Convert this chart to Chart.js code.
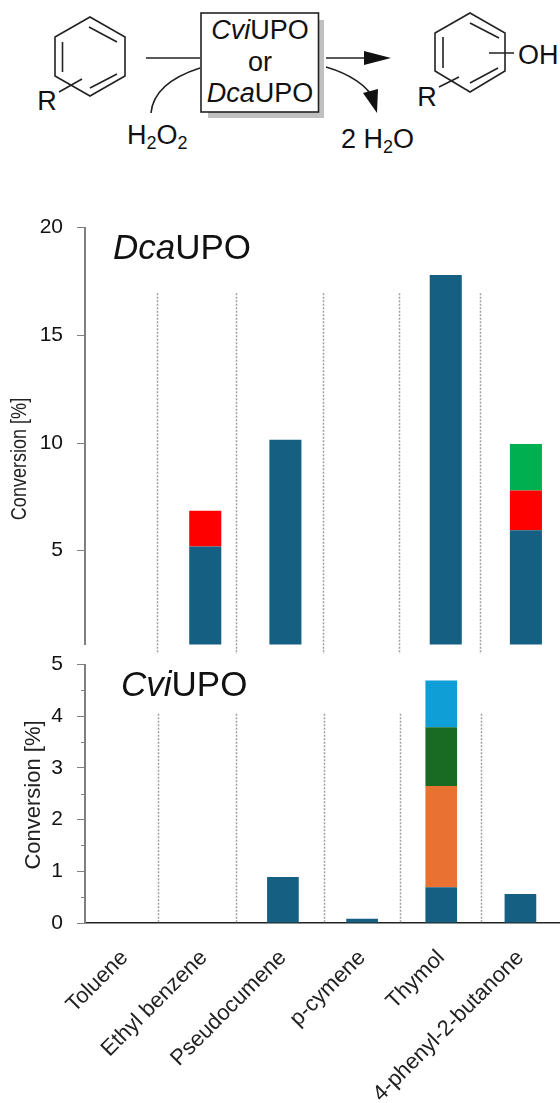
<!DOCTYPE html>
<html>
<head>
<meta charset="utf-8">
<script src="https://cdn.jsdelivr.net/npm/chart.js@4"></script>
<style>
    html, body { margin: 0; padding: 0; background: #fff; overflow: hidden; }
    body { width: 560px; height: 1103px; position: relative; font-family: "Liberation Sans", Arial, sans-serif; }
    svg, canvas { position: absolute; display: block; }
    svg text { font-family: "Liberation Sans", Arial, sans-serif; fill: #111; }
</style>
</head>
<body>
<!-- reaction scheme -->
<svg style="left:0;top:0" width="560" height="180" fill="none" stroke="#222" stroke-width="1.6">
    <polygon points="90,17 125,37 125,76 90,96 55,76 55,37"/>
    <path d="M89,27 L117,42 M62.5,42 L62.5,72 M90,88 L117,74 M82,79 L59,92"/>
    <text x="47" y="110" font-size="27" text-anchor="middle" stroke="none">R</text>
    <path d="M146,58 L200,58"/>
    <path d="M200,68 C172,77 153,92 151,113"/>
    <text x="127" y="144" font-size="27" stroke="none">H<tspan font-size="18" dy="5">2</tspan><tspan dy="-5">O</tspan><tspan font-size="18" dy="5">2</tspan></text>
    <rect x="208" y="20" width="116" height="98" fill="#c0c0c0" stroke="none"/>
    <rect x="201" y="13" width="117.5" height="99" fill="#fff"/>
    <text x="260" y="39" font-size="27" text-anchor="middle" stroke="none"><tspan font-style="italic">Cvi</tspan>UPO</text>
    <text x="260" y="71" font-size="27" text-anchor="middle" stroke="none">or</text>
    <text x="260" y="102" font-size="27" text-anchor="middle" stroke="none"><tspan font-style="italic">Dca</tspan>UPO</text>
    <path d="M326,58 L366,58"/>
    <polygon points="364,51 391,58 364,65" fill="#111" stroke="none"/>
    <path d="M326,67 C350,74 368,86 374,100"/>
    <polygon points="363,93 378,89 377,113" fill="#111" stroke="none"/>
    <text x="341" y="148" font-size="27" stroke="none">2 H<tspan font-size="18" dy="5">2</tspan><tspan dy="-5">O</tspan></text>
    <polygon points="470,13 505,33 505,71 470,92 435,71 435,33"/>
    <path d="M470,23 L499,38 M443,37 L443,68 M470,83 L498,68 M489,53 L514,53 M459,77 L439,87"/>
    <text x="427" y="106" font-size="27" text-anchor="middle" stroke="none">R</text>
    <text x="518" y="64" font-size="27" stroke="none">OH</text>
</svg>

<canvas id="dca" width="566" height="470" style="left:0;top:201px"></canvas>
<canvas id="cvi" width="560" height="465" style="left:0;top:638px"></canvas>

<script>
// categories
var categories = ['Toluene', 'Ethyl benzene', 'Pseudocumene', 'p-cymene', 'Thymol', '4-phenyl-2-butanone'];

// DcaUPO conversion, stacked per product
var dcaProduct1 = [null, 5.2, 10.15, null, 17.8, 5.95];
var dcaProduct2 = [null, 1.65, null, null, null, 1.85];
var dcaProduct3 = [null, null, null, null, null, 2.15];

// CviUPO conversion, stacked per product
var cviProduct1 = [null, null, 0.89, 0.08, 0.69, 0.56];
var cviProduct2 = [null, null, null, null, 1.96, null];
var cviProduct3 = [null, null, null, null, 1.14, null];
var cviProduct4 = [null, null, null, null, 0.9, null];

// axis ticks
var dcaTicks = [5, 10, 15, 20];
var cviTicks = [0, 1, 2, 3, 4, 5];
var cviMinorTicks = [0.5, 1.5, 2.5, 3.5, 4.5];

// dotted separators, in category units
var dcaSeparators = [0.404, 1.383, 2.467, 3.415, 4.425];
var cviSeparators = [0.424, 1.411, 2.513, 3.475, 4.5];

var BLUE = '#156082';

// draws the dotted separators, the panel name, and the minor ticks
function panelPlugin(cfg) {
    return {
        id: 'panel',
        afterDraw: function (chart) {
            var ctx = chart.ctx;
            var x = chart.scales.x;
            var y = chart.scales.y;

            ctx.save();
            ctx.strokeStyle = '#a0a0a0';
            ctx.lineWidth = 1.5;
            ctx.setLineDash([2, 1.5]);
            cfg.separators.forEach(function (s) {
                var px = Math.round(x.getPixelForValue(s)) + 0.5;
                ctx.beginPath();
                ctx.moveTo(px, y.getPixelForValue(cfg.sepTop));
                ctx.lineTo(px, y.getPixelForValue(cfg.sepBottom));
                ctx.stroke();
            });
            ctx.setLineDash([]);

            if (cfg.minor) {
                ctx.strokeStyle = '#808080';
                ctx.lineWidth = 1;
                cfg.minor.forEach(function (v) {
                    var py = Math.round(y.getPixelForValue(v)) + 0.5;
                    ctx.beginPath();
                    ctx.moveTo(81, py);
                    ctx.lineTo(85, py);
                    ctx.stroke();
                });
            }

            // panel name, italic part then upright part
            ctx.fillStyle = '#111';
            ctx.textBaseline = 'alphabetic';
            ctx.textAlign = 'left';
            ctx.font = 'italic 35px "Liberation Sans"';
            var w = ctx.measureText(cfg.italic).width;
            ctx.fillText(cfg.italic, cfg.nameX, cfg.nameY);
            ctx.font = '35px "Liberation Sans"';
            ctx.fillText('UPO', cfg.nameX + w, cfg.nameY);

            // axis title
            ctx.translate(cfg.titleX, cfg.titleY);
            ctx.rotate(-Math.PI / 2);
            ctx.scale(cfg.titleStretch, 1);
            ctx.textAlign = 'center';
            ctx.textBaseline = 'middle';
            ctx.font = cfg.titleSize + 'px "Liberation Sans"';
            ctx.fillStyle = '#222';
            ctx.fillText('Conversion [%]', 0, 0);
            ctx.restore();
        }
    };
}

function barSet(label, values, color) {
    return {
        label: label,
        data: values,
        backgroundColor: color,
        barPercentage: 0.4,
        categoryPercentage: 1,
        stack: 'a'
    };
}

function yScale(min, max, ticks) {
    return {
        stacked: true,
        min: min,
        max: max,
        afterBuildTicks: function (scale) {
            scale.ticks = ticks.map(function (v) { return { value: v }; });
        },
        afterFit: function (scale) { scale.width = 85; },
        border: { color: '#808080', width: 2 },
        grid: { drawOnChartArea: false, tickLength: 8, tickColor: '#808080', tickWidth: 1 },
        ticks: { color: '#111', padding: 14, font: { size: 21, family: '"Liberation Sans"' } }
    };
}

// DcaUPO panel
new Chart(document.getElementById('dca'), {
    type: 'bar',
    data: {
        labels: categories,
        datasets: [
            barSet('Product 1', dcaProduct1, BLUE),
            barSet('Product 2', dcaProduct2, '#ff0000'),
            barSet('Product 3', dcaProduct3, '#00b050')
        ]
    },
    options: {
        responsive: false,
        animation: false,
        plugins: { legend: { display: false }, tooltip: { enabled: false } },
        scales: {
            x: { stacked: true, display: false },
            y: yScale(0.65, 20, dcaTicks)
        }
    },
    plugins: [panelPlugin({
        separators: dcaSeparators, sepTop: 16.95, sepBottom: 0.2,
        italic: 'Dca', nameX: 113, nameY: 58,
        titleX: 20, titleY: 258, titleSize: 22, titleStretch: 0.82
    })]
});

// CviUPO panel
new Chart(document.getElementById('cvi'), {
    type: 'bar',
    data: {
        labels: categories,
        datasets: [
            barSet('Product 1', cviProduct1, BLUE),
            barSet('Product 2', cviProduct2, '#e97132'),
            barSet('Product 3', cviProduct3, '#196b24'),
            barSet('Product 4', cviProduct4, '#0f9ed5')
        ]
    },
    options: {
        responsive: false,
        animation: false,
        plugins: { legend: { display: false }, tooltip: { enabled: false } },
        scales: {
            x: {
                stacked: true,
                afterFit: function (scale) { scale.height = 180; },
                border: { color: '#222', width: 1.5 },
                grid: { display: false },
                ticks: {
                    color: '#222',
                    padding: 14,
                    autoSkip: false,
                    minRotation: 45,
                    maxRotation: 45,
                    font: { size: 22, family: '"Liberation Sans"' }
                }
            },
            y: yScale(0, 5, cviTicks)
        }
    },
    plugins: [panelPlugin({
        separators: cviSeparators, sepTop: 4.05, sepBottom: 0,
        minor: cviMinorTicks,
        italic: 'Cvi', nameX: 121, nameY: 58,
        titleX: 34, titleY: 157, titleSize: 22, titleStretch: 1
    })]
});
</script>
</body>
</html>
